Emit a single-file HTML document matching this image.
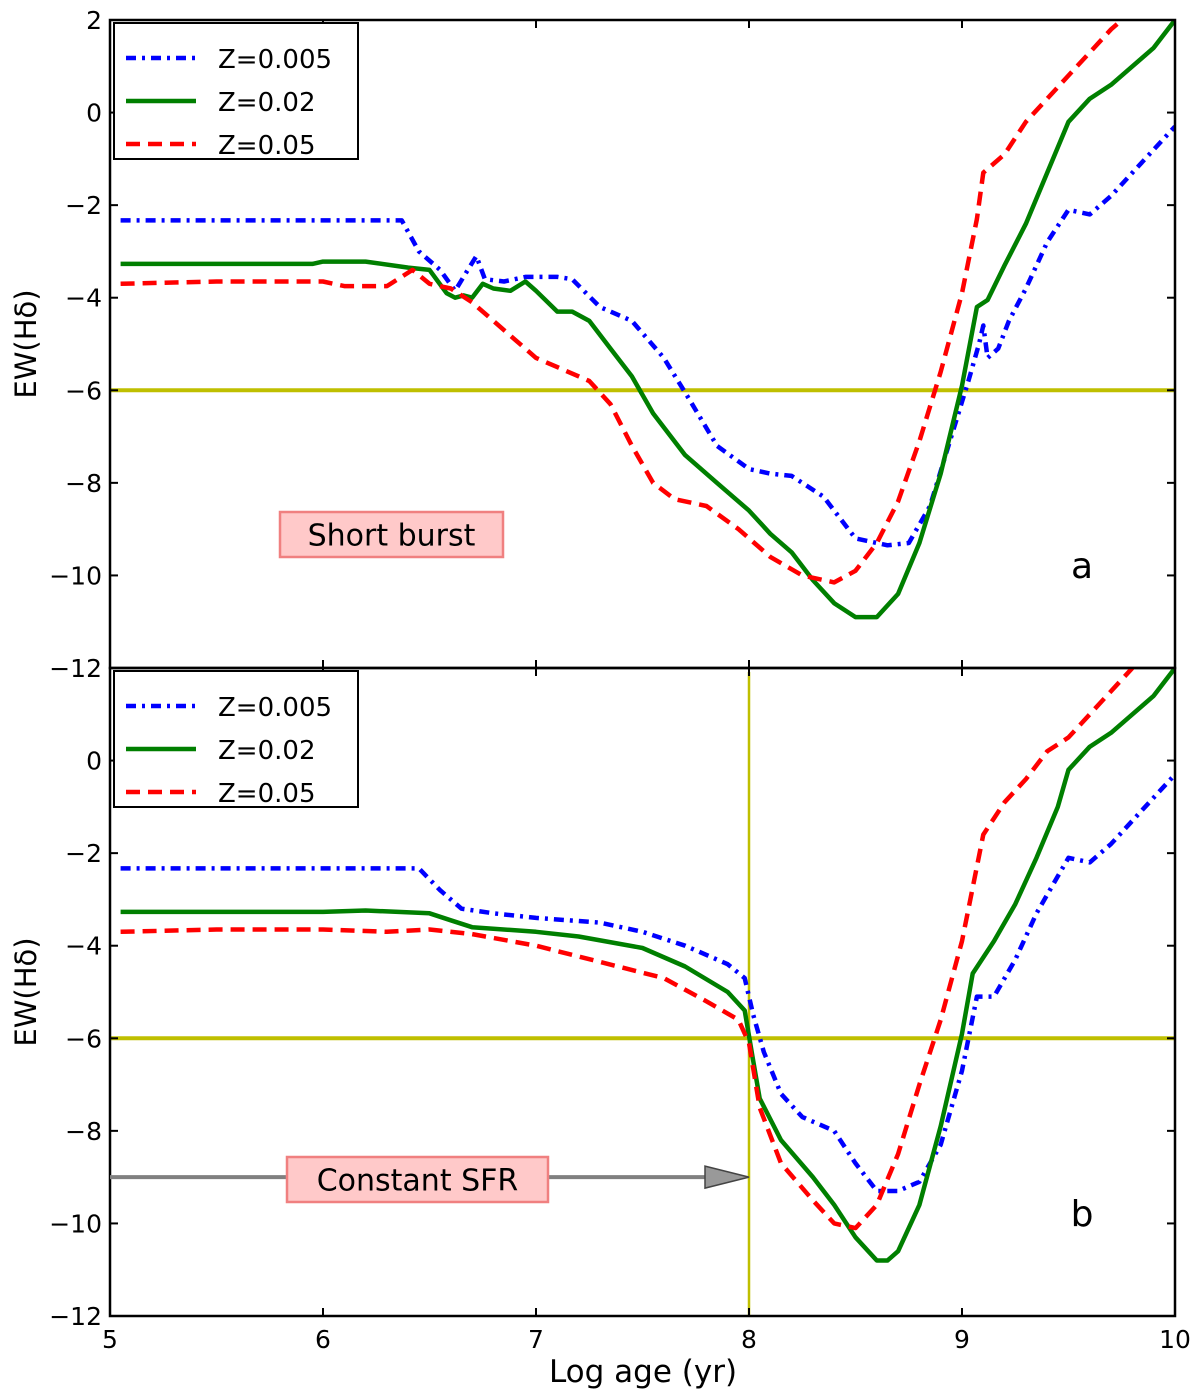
<!DOCTYPE html>
<html><head><meta charset="utf-8"><style>
body{margin:0;background:#fff}
svg{display:block;font-family:"DejaVu Sans","Liberation Sans",sans-serif}
</style></head><body>
<svg id="chart" width="1200" height="1398"></svg>
<script>
const xTicks=[5,6,7,8,9,10];
const yTicks=[2,0,-2,-4,-6,-8,-10,-12];
const seriesNames=["Z=0.005","Z=0.02","Z=0.05"];
const topBlue=[[5.05,-2.33],[6.37,-2.33],[6.45,-3.0],[6.55,-3.4],[6.62,-3.85],[6.68,-3.4],[6.72,-3.1],[6.76,-3.6],[6.85,-3.65],[6.95,-3.55],[7.1,-3.55],[7.17,-3.6],[7.3,-4.2],[7.45,-4.5],[7.6,-5.3],[7.72,-6.2],[7.85,-7.2],[8.0,-7.7],[8.1,-7.8],[8.2,-7.85],[8.35,-8.3],[8.5,-9.2],[8.65,-9.35],[8.75,-9.3],[8.85,-8.5],[8.95,-7],[9.03,-5.8],[9.08,-5.0],[9.1,-4.6],[9.12,-5.3],[9.17,-5.1],[9.22,-4.5],[9.3,-3.8],[9.4,-2.8],[9.5,-2.1],[9.6,-2.2],[9.7,-1.8],[9.8,-1.3],[9.9,-0.8],[10,-0.3]];
const topGreen=[[5.05,-3.27],[5.95,-3.27],[6.0,-3.22],[6.2,-3.22],[6.4,-3.35],[6.5,-3.4],[6.58,-3.9],[6.62,-4.0],[6.66,-3.95],[6.7,-4.0],[6.75,-3.7],[6.8,-3.8],[6.88,-3.85],[6.95,-3.65],[7.0,-3.85],[7.1,-4.3],[7.17,-4.3],[7.25,-4.5],[7.35,-5.1],[7.45,-5.7],[7.55,-6.5],[7.7,-7.4],[7.85,-8.0],[8.0,-8.6],[8.1,-9.1],[8.2,-9.5],[8.3,-10.1],[8.4,-10.6],[8.5,-10.9],[8.6,-10.9],[8.7,-10.4],[8.8,-9.3],[8.9,-7.8],[9.0,-5.9],[9.07,-4.2],[9.12,-4.05],[9.2,-3.3],[9.3,-2.4],[9.4,-1.3],[9.5,-0.2],[9.6,0.3],[9.7,0.6],[9.8,1.0],[9.9,1.4],[10.0,2.0]];
const topRed=[[5.05,-3.7],[5.5,-3.65],[6.0,-3.65],[6.1,-3.75],[6.3,-3.75],[6.42,-3.4],[6.5,-3.7],[6.6,-3.8],[6.7,-4.1],[6.8,-4.5],[6.9,-4.9],[7.0,-5.3],[7.1,-5.5],[7.25,-5.8],[7.35,-6.3],[7.45,-7.2],[7.55,-8.0],[7.65,-8.35],[7.8,-8.5],[7.95,-9.0],[8.1,-9.6],[8.25,-10.0],[8.4,-10.15],[8.5,-9.9],[8.6,-9.3],[8.7,-8.4],[8.8,-7.1],[8.9,-5.6],[9.0,-3.9],[9.07,-2.3],[9.1,-1.3],[9.2,-0.9],[9.3,-0.2],[9.4,0.3],[9.5,0.8],[9.6,1.3],[9.7,1.8],[9.75,2.0]];
const botBlue=[[5.05,-2.33],[6.45,-2.33],[6.55,-2.8],[6.65,-3.2],[6.8,-3.3],[7.0,-3.4],[7.3,-3.5],[7.5,-3.7],[7.7,-4.0],[7.9,-4.4],[7.98,-4.7],[8.02,-5.5],[8.07,-6.3],[8.15,-7.2],[8.25,-7.7],[8.4,-8.0],[8.5,-8.7],[8.6,-9.3],[8.7,-9.3],[8.8,-9.1],[8.9,-8.3],[9.0,-6.7],[9.07,-5.1],[9.15,-5.1],[9.25,-4.3],[9.35,-3.3],[9.45,-2.5],[9.5,-2.1],[9.6,-2.2],[9.7,-1.8],[9.8,-1.3],[9.9,-0.8],[10,-0.3]];
const botGreen=[[5.05,-3.27],[6.0,-3.27],[6.2,-3.24],[6.5,-3.3],[6.6,-3.45],[6.7,-3.6],[7.0,-3.7],[7.2,-3.8],[7.5,-4.05],[7.7,-4.45],[7.9,-5.0],[7.98,-5.4],[8.02,-6.5],[8.05,-7.3],[8.15,-8.2],[8.3,-9.0],[8.4,-9.6],[8.5,-10.3],[8.6,-10.8],[8.65,-10.8],[8.7,-10.6],[8.8,-9.6],[8.9,-7.9],[9.0,-5.9],[9.05,-4.6],[9.15,-3.9],[9.25,-3.1],[9.35,-2.1],[9.45,-1.0],[9.5,-0.2],[9.6,0.3],[9.7,0.6],[9.8,1.0],[9.9,1.4],[10.0,2.0]];
const botRed=[[5.05,-3.7],[5.5,-3.65],[6.0,-3.65],[6.3,-3.7],[6.5,-3.65],[6.7,-3.75],[7.0,-4.0],[7.3,-4.35],[7.6,-4.7],[7.8,-5.2],[7.95,-5.6],[8.0,-6.1],[8.05,-7.5],[8.15,-8.7],[8.3,-9.5],[8.4,-10.0],[8.5,-10.1],[8.6,-9.6],[8.7,-8.5],[8.8,-7.0],[8.9,-5.6],[9.0,-3.9],[9.1,-1.6],[9.2,-0.9],[9.3,-0.4],[9.4,0.2],[9.5,0.5],[9.6,1.0],[9.7,1.5],[9.8,2.0]];
const threshold=-6, burstEnd=8, arrowY=-9;

const NS="http://www.w3.org/2000/svg";
const svg=document.getElementById('chart');
const L=110,R=1175,PW=R-L;
const panels=[{top:20,bot:668},{top:668,bot:1316}];
function sx(v){return L+(v-5)/5*PW;}
function sy(p,v){const P=panels[p];return P.top+(2-v)/14*(P.bot-P.top);}
function mk(tag,attrs,parent){const e=document.createElementNS(NS,tag);for(const k in attrs)e.setAttribute(k,attrs[k]);(parent||svg).appendChild(e);return e;}
function txt(s,attrs){const e=mk('text',attrs);e.textContent=s;return e;}

const colors=["#0000ff","#007f00","#ff0000"];
const dashes=["10,6,3,6","","14,8"];
const data=[[topBlue,topGreen,topRed],[botBlue,botGreen,botRed]];

for(let p=0;p<2;p++){
  const P=panels[p];
  const clip=mk('clipPath',{id:'clip'+p});
  mk('rect',{x:L,y:P.top,width:PW,height:P.bot-P.top},clip);
  let h=mk('line',{x1:L,x2:R,y1:sy(p,threshold),y2:sy(p,threshold),stroke:"#bfbf00","stroke-width":4});
  
  
  if(p===1){
    let v=mk('line',{x1:sx(burstEnd),x2:sx(burstEnd),y1:P.top+4,y2:P.bot,stroke:"#bfbf00","stroke-width":2.5});
    
    
  }
  for(let s=0;s<3;s++){
    const d=data[p][s].map((pt,i)=>(i?'L':'M')+sx(pt[0]).toFixed(1)+','+sy(p,pt[1]).toFixed(1)).join(' ');
    const path=mk('path',{d:d,fill:"none",stroke:colors[s],"stroke-width":4.5,"stroke-dasharray":dashes[s],"clip-path":"url(#clip"+p+")","stroke-linejoin":"round"});
    
    
  }
  let fr=mk('rect',{x:L,y:P.top,width:PW,height:P.bot-P.top,fill:"none",stroke:"#000","stroke-width":2.5});
  
  
  xTicks.forEach(t=>{
    mk('line',{x1:sx(t),x2:sx(t),y1:P.bot,y2:P.bot-8,stroke:"#000","stroke-width":2});
    mk('line',{x1:sx(t),x2:sx(t),y1:P.top,y2:P.top+8,stroke:"#000","stroke-width":2});
    if(p===1){
      let lb=txt(String(t),{x:sx(t),y:P.bot+32,"font-size":25,"text-anchor":"middle"});
      
      
    }
  });
  yTicks.forEach(t=>{
    mk('line',{x1:L,x2:L+8,y1:sy(p,t),y2:sy(p,t),stroke:"#000","stroke-width":2});
    mk('line',{x1:R,x2:R-8,y1:sy(p,t),y2:sy(p,t),stroke:"#000","stroke-width":2});
    if(p===1&&t===2)return;
    let lb=txt(String(t).replace('-','\u2212'),{x:L-8,y:sy(p,t)+9,"font-size":25,"text-anchor":"end"});
    
    
  });
  let yl=txt('EW(H\u03b4)',{x:0,y:0,"font-size":29,"text-anchor":"middle",transform:`translate(36,${(P.top+P.bot)/2}) rotate(-90)`});
  
  
  const lg=mk('g',{});
  
  
  mk('rect',{x:114,y:P.top+3,width:244,height:136,fill:"#fff",stroke:"#000","stroke-width":2},lg);
  for(let s=0;s<3;s++){
    const yy=P.top+38+s*43;
    const e=mk('g',{},lg);
    
    
    mk('line',{x1:126,x2:196,y1:yy,y2:yy,stroke:colors[s],"stroke-width":4.5,"stroke-dasharray":dashes[s]},e);
    const t=mk('text',{x:218,y:yy+10,"font-size":26},e);t.textContent=seriesNames[s];
  }
}
function box(label,x,y,w,h,name){
  const g=mk('g',{});
  
  
  mk('rect',{x:x,y:y,width:w,height:h,fill:"#ffc9c9",stroke:"#f08080","stroke-width":2.5},g);
  const t=mk('text',{x:x+w/2,y:y+h/2+11,"font-size":30,"text-anchor":"middle"},g);t.textContent=label;
}
box('Short burst',280,512,223,45,'short-burst-label');
const ay=sy(1,arrowY);
let ar=mk('line',{x1:L,x2:sx(burstEnd)-44,y1:ay,y2:ay,stroke:"#808080","stroke-width":4});


let ah=mk('polygon',{points:`${sx(burstEnd)-44},${ay-11} ${sx(burstEnd)},${ay} ${sx(burstEnd)-44},${ay+11}`,fill:"#999",stroke:"#444","stroke-width":1.5});


box('Constant SFR',287,1157,261,45,'constant-sfr-label');
let a=txt('a',{x:1082,y:578,"font-size":36,"text-anchor":"middle"});


let b=txt('b',{x:1082,y:1226,"font-size":36,"text-anchor":"middle"});


let xl=txt('Log age (yr)',{x:643,y:1382,"font-size":31,"text-anchor":"middle"});


</script>
</body></html>
